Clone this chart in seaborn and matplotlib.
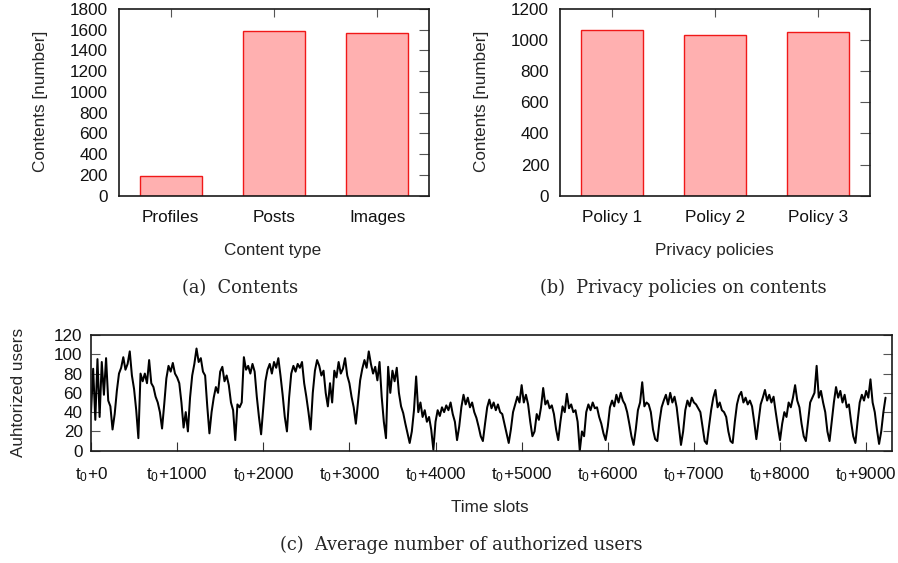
import numpy as np
import pandas as pd
import matplotlib
matplotlib.use("Agg")
import matplotlib.pyplot as plt
import seaborn as sns

# ---------------- data ----------------
content_types = ["Profiles", "Posts", "Images"]
content_counts = [190, 1585, 1565]

policies = ["Policy 1", "Policy 2", "Policy 3"]
policy_counts = [1062, 1032, 1050]

slot_step = 25  # one reading every 25 time slots
authorized_users = [
    # 0 .. 975
    40, 85, 32, 95, 35, 92, 58, 96, 52, 46, 22, 38, 62, 80, 86, 97, 84, 90, 103, 78,
    64, 42, 13, 80, 72, 80, 70, 94, 70, 66, 56, 50, 40, 23, 48, 75, 88, 82, 91, 80,
    # 1000 .. 1975
    76, 70, 50, 24, 40, 20, 55, 78, 90, 106, 92, 96, 82, 78, 46, 18, 40, 55, 66, 60,
    82, 87, 72, 78, 68, 50, 42, 11, 48, 45, 50, 97, 84, 88, 80, 90, 82, 56, 35, 17,
    # 2000 .. 2975
    45, 72, 84, 90, 80, 92, 86, 96, 78, 58, 35, 20, 55, 80, 88, 82, 90, 86, 92, 70,
    56, 40, 22, 60, 83, 94, 88, 78, 83, 60, 46, 70, 50, 83, 76, 92, 80, 85, 96, 78,
    # 3000 .. 3975
    70, 56, 45, 28, 50, 73, 85, 94, 86, 103, 90, 80, 87, 73, 92, 56, 30, 13, 87, 60,
    83, 72, 86, 60, 46, 39, 28, 18, 8, 20, 42, 77, 40, 50, 35, 42, 30, 35, 22, 1,
    # 4000 .. 4975
    30, 42, 36, 45, 40, 47, 42, 50, 38, 30, 11, 25, 45, 58, 48, 55, 45, 50, 40, 34,
    25, 15, 10, 28, 45, 53, 44, 50, 42, 48, 40, 38, 28, 18, 8, 22, 40, 48, 56, 50,
    # 5000 .. 5975
    68, 50, 58, 48, 30, 15, 20, 38, 32, 45, 65, 48, 52, 44, 47, 38, 22, 11, 30, 46,
    40, 59, 44, 48, 40, 42, 30, 0, 20, 15, 40, 48, 42, 50, 44, 45, 35, 28, 18, 11,
    # 6000 .. 6975
    25, 45, 52, 46, 58, 50, 60, 52, 48, 40, 28, 15, 6, 22, 42, 50, 71, 46, 50, 48,
    40, 22, 12, 10, 30, 45, 52, 58, 48, 60, 50, 56, 45, 25, 6, 20, 42, 52, 46, 55,
    # 7000 .. 7975
    50, 48, 44, 40, 25, 10, 7, 25, 42, 55, 63, 45, 50, 42, 40, 35, 20, 10, 8, 30,
    48, 57, 61, 50, 55, 48, 52, 46, 30, 12, 30, 48, 55, 63, 52, 58, 50, 56, 40, 25,
    # 8000 .. 8975
    11, 28, 40, 35, 50, 45, 55, 68, 52, 45, 28, 15, 10, 30, 50, 55, 60, 88, 55, 62,
    50, 40, 20, 10, 30, 50, 66, 55, 62, 50, 58, 45, 48, 30, 15, 8, 30, 50, 58, 52,
    # 9000 .. 9225
    62, 55, 74, 50, 40, 22, 7, 20, 40, 55,
]
time_slots = [i * slot_step for i in range(len(authorized_users))]

time_ticks = [0, 1000, 2000, 3000, 4000, 5000, 6000, 7000, 8000, 9000]
time_tick_labels = ["t$_0$+0", "t$_0$+1000", "t$_0$+2000", "t$_0$+3000", "t$_0$+4000",
                    "t$_0$+5000", "t$_0$+6000", "t$_0$+7000", "t$_0$+8000", "t$_0$+9000"]

# ---------------- style ----------------
sns.set_style("white")
plt.rcParams["font.family"] = ["Liberation Sans", "DejaVu Sans"]
plt.rcParams["mathtext.fontset"] = "custom"
plt.rcParams["mathtext.rm"] = "Liberation Sans"
plt.rcParams["mathtext.it"] = "Liberation Sans:italic"
plt.rcParams["mathtext.default"] = "regular"

FS = 12.3
BAR_FILL = "#ffb0b0"
BAR_EDGE = "#f01818"
SPINE = "#1a1a1a"
TICKC = "#555555"
W, H = 898.0, 563.0

fig = plt.figure(figsize=(W / 100, H / 100), dpi=100)


def rect(l, t, r, b):
    return [l / W, (H - b) / H, (r - l) / W, (b - t) / H]


ax_a = fig.add_axes(rect(119, 9, 428.7, 195.7))
ax_b = fig.add_axes(rect(560.3, 9, 870, 195.7))
ax_c = fig.add_axes(rect(91, 335, 892, 450.7))

df_a = pd.DataFrame({"type": content_types, "count": content_counts})
df_b = pd.DataFrame({"policy": policies, "count": policy_counts})
df_c = pd.DataFrame({"slot": time_slots, "users": authorized_users})

sns.barplot(data=df_a, x="type", y="count", ax=ax_a, color=BAR_FILL, saturation=1,
            width=0.6, edgecolor=BAR_EDGE, linewidth=1.0)
sns.barplot(data=df_b, x="policy", y="count", ax=ax_b, color=BAR_FILL, saturation=1,
            width=0.6, edgecolor=BAR_EDGE, linewidth=1.0)
sns.lineplot(data=df_c, x="slot", y="users", ax=ax_c, color="black", linewidth=1.45)

for ax, ymax, xl, xlab_x in [(ax_a, 1800, "Content type", 0.497),
                             (ax_b, 1200, "Privacy policies", 0.498)]:
    ax.set_xlim(-0.5, 2.5)
    ax.set_ylim(0, ymax)
    ax.set_yticks(range(0, ymax + 1, 200))
    ax.tick_params(axis="x", bottom=False, top=True, direction="in", length=6,
                   color=TICKC, labelsize=FS, pad=10.5, labelcolor="#111111")
    ax.tick_params(axis="y", left=False, right=True, direction="in", length=7,
                   color=TICKC, labelsize=FS, pad=8, labelcolor="#111111")
    ax.set_xlabel(xl, fontsize=FS)
    ax.xaxis.set_label_coords(xlab_x, -0.291)
    ax.xaxis.label.set_va("center")
    ax.set_ylabel("Contents [number]", fontsize=FS)
    ax.yaxis.set_label_coords(-0.255, 0.505)
    ax.yaxis.label.set_va("center")

ax_c.set_xlim(0, 9300)
ax_c.set_ylim(0, 120)
ax_c.set_yticks(range(0, 121, 20))
ax_c.set_xticks(time_ticks)
ax_c.set_xticklabels(time_tick_labels)
ax_c.tick_params(axis="x", bottom=True, top=False, direction="in", length=6.5,
                 color="#333333", labelsize=FS, pad=10.5, labelcolor="#111111")
ax_c.tick_params(axis="y", left=True, right=True, direction="in", length=6.5,
                 color=TICKC, labelsize=FS, pad=6, labelcolor="#111111")
ax_c.set_xlabel("Time slots", fontsize=FS)
ax_c.xaxis.set_label_coords(0.498, -0.495)
ax_c.xaxis.label.set_va("center")
ax_c.set_ylabel("Auhtorized users", fontsize=FS)
ax_c.yaxis.set_label_coords(-0.091, 0.507)
ax_c.yaxis.label.set_va("center")

for ax in (ax_a, ax_b, ax_c):
    for s in ax.spines.values():
        s.set_visible(True)
        s.set_color(SPINE)
        s.set_linewidth(1.2)

cap_kw = dict(ha="center", va="center", fontsize=12.8, family=["DejaVu Serif"])
fig.text(240 / W, 1 - 288 / H, "(a)  Contents", **cap_kw)
fig.text(683 / W, 1 - 288 / H, "(b)  Privacy policies on contents", **cap_kw)
fig.text(461 / W, 1 - 545 / H, "(c)  Average number of authorized users", **cap_kw)

fig.savefig("out.png", dpi=100)
